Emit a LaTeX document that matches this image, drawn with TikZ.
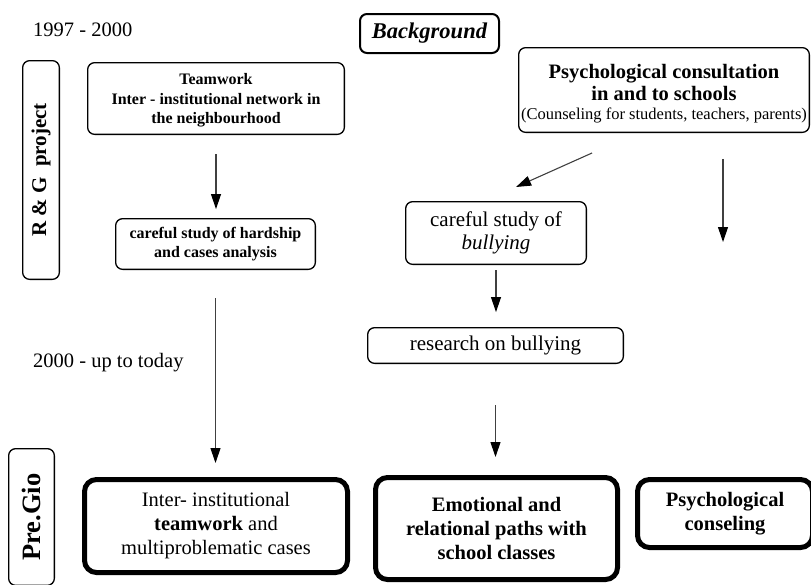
\documentclass[tikz,border=0pt]{standalone}
\usepackage{fontspec}
\setmainfont{Liberation Serif}
\usetikzlibrary{arrows.meta}
\begin{document}
\begin{tikzpicture}[x=1pt,y=-1pt,
  box/.style={draw, rounded corners=7pt, line width=1.3pt, outer sep=0pt, inner sep=0pt, align=center},
  heavybox/.style={box, line width=5pt, rounded corners=12pt},
  arr/.style={draw=black!75, line width=1.1pt, -{Triangle[length=15pt,width=10pt,color=black]}},
  bigf/.style={font=\fontsize{20.5}{24}\selectfont},
  bigbf/.style={font=\fontsize{20.5}{24}\selectfont\bfseries},
  smallbf/.style={font=\fontsize{16}{19.5}\selectfont\bfseries},
]
\useasboundingbox (0,0) rectangle (811,584);

% period labels
\node[bigf, anchor=west, inner sep=0pt] (p1) at (33,29.5) {1997 - 2000};
\node[bigf, anchor=west, inner sep=0pt] (p2) at (33,363) {2000 - up to today};

% header
\node[box, line width=2pt, minimum width=139pt, minimum height=39pt,
      font=\fontsize{22.5}{26}\selectfont\bfseries\itshape] (bg) at (429.5,33.5) {Background};

% side labels
\node[box, rotate=90, minimum width=218.7pt, minimum height=36.7pt,
      font=\fontsize{21}{24}\selectfont\bfseries] (rg) at (41,170) {R \& G\ \ project};
\node[box, rotate=90, minimum width=136.7pt, minimum height=45.7pt,
      font=\fontsize{26.5}{30}\selectfont\bfseries] (pg) at (31.5,517) {Pre.Gio};

% upper boxes
\node[box, smallbf, minimum width=256.7pt, minimum height=71.7pt] (team) at (216,98.5)
  {\rule{0pt}{15pt}Teamwork\\Inter - institutional network in\\the neighbourhood};
\node[box, font=\fontsize{20.5}{22}\selectfont\bfseries, minimum width=290.7pt, minimum height=84.7pt] (psych) at (664,90)
  {\rule{0pt}{22pt}Psychological consultation\\in and to schools\\[-3pt]{\mdseries\fontsize{16.5}{18}\selectfont (Counseling for students, teachers, parents)}};
\node[box, smallbf, minimum width=199.7pt, minimum height=50.7pt] (hard) at (215.5,244)
  {careful study of hardship\\and cases analysis};
\node[box, font=\fontsize{21}{23}\selectfont, minimum width=180.7pt, minimum height=62.7pt] (bully) at (496,233)
  {careful study of\\\textit{bullying}};
\node[box, font=\fontsize{21}{23}\selectfont, minimum width=255.7pt, minimum height=35.7pt] (research) at (495.5,345.5)
  {research on bullying};

% bottom boxes
\node[heavybox, bigf, minimum width=263pt, minimum height=93pt] (b1) at (216,526)
  {Inter- institutional\\\textbf{teamwork} and\\multiproblematic cases};
\node[heavybox, bigbf, minimum width=242pt, minimum height=102pt] (b2) at (496.5,528.5)
  {Emotional and\\relational paths with\\school classes};
\node[heavybox, bigbf, minimum width=175pt, minimum height=68pt] (b3) at (725,513.5)
  {Psychological\\conseling};

% connectors
\coordinate (rend) at (723,242);
\draw[arr, shorten <=20pt, shorten >=9.6pt] (team.south) -- (team.south |- hard.north);
\draw[arr, shorten <=29pt, shorten >=16.5pt] (hard.south) -- (hard.south |- b1.north);
\draw[arr, shorten <=50.5pt, shorten >=35.9pt] ([xshift=-25.85pt]psych.south) -- ([xshift=-12.7pt]bully.north);
\draw[arr, shorten <=26.6pt] (psych.south -| rend) -- (rend);
\draw[arr, shorten <=6pt, shorten >=15.6pt] (bully.south) -- (bully.south |- research.north);
\draw[arr, shorten <=42pt, shorten >=20.5pt] (research.south) -- (research.south |- b2.north);
\end{tikzpicture}
\end{document}
